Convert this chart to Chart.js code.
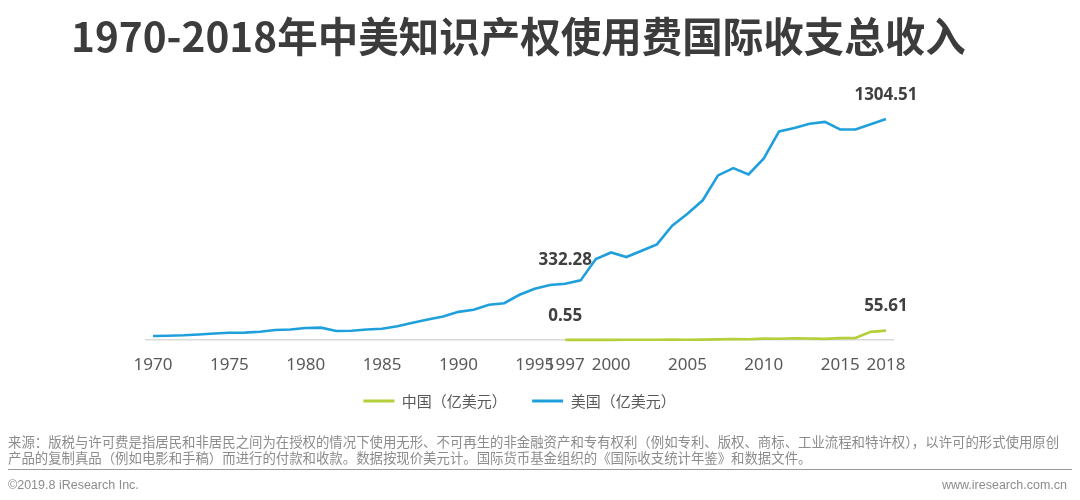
<!DOCTYPE html>
<html>
<head>
<meta charset="utf-8">
<script src="https://cdn.jsdelivr.net/npm/chart.js@4/dist/chart.umd.min.js"></script>
<style>
  html, body { margin:0; padding:0; background:#fff; }
  #wrap { position:relative; width:1080px; height:500px; overflow:hidden; background:#fff; }
  #c { position:absolute; left:0; top:0; }
  #title { position:absolute; left:71px; top:14px; font-family:"Noto Sans CJK SC", sans-serif; font-weight:700; font-size:40.5px; line-height:41px; color:#3c3c3c; white-space:nowrap; }
  #note { position:absolute; left:8px; top:433px; width:1070px; font-family:"Noto Sans CJK SC", sans-serif; font-size:13.4px; line-height:16px; color:#8c8c8c; white-space:nowrap; }
  #rule { position:absolute; left:8px; top:469px; width:1064px; height:1px; background:#9a9a9a; }
  #copy { position:absolute; left:8px; top:477px; font-family:"Liberation Sans", Arial, sans-serif; font-size:12.5px; line-height:16px; color:#8c8c8c; }
  #site { position:absolute; right:13px; top:477px; font-family:"Liberation Sans", Arial, sans-serif; font-size:12.5px; line-height:16px; color:#8c8c8c; }
</style>
</head>
<body>
<div id="wrap">
  <canvas id="c" width="1080" height="500"></canvas>
  <div id="title">1970-2018年中美知识产权使用费国际收支总收入</div>
  <div id="note">来源：版税与许可费是指居民和非居民之间为在授权的情况下使用无形、不可再生的非金融资产和专有权利（例如专利、版权、商标、工业流程和特许权），以许可的形式使用原创<br>产品的复制真品（例如电影和手稿）而进行的付款和收款。数据按现价美元计。国际货币基金组织的《国际收支统计年鉴》和数据文件。</div>
  <div id="rule"></div>
  <div id="copy">©2019.8 iResearch Inc.</div>
  <div id="site">www.iresearch.com.cn</div>
</div>
<script>
// ---- data ----
const years = [
  '1970','1971','1972','1973','1974','1975','1976','1977','1978','1979',
  '1980','1981','1982','1983','1984','1985','1986','1987','1988','1989',
  '1990','1991','1992','1993','1994','1995','1996','1997','1998','1999',
  '2000','2001','2002','2003','2004','2005','2006','2007','2008','2009',
  '2010','2011','2012','2013','2014','2015','2016','2017','2018'
];
const tickYears = ['1970','1975','1980','1985','1990','1995','1997','2000','2005','2010','2015','2018'];
const usValues = [
  23.3, 25.5, 27.7, 32.3, 38.2, 43.0, 43.5, 48.6, 58.9, 61.8,
  70.9, 72.8, 53.0, 55.0, 61.8, 66.8, 81.1, 101.7, 121.5, 138.2,
  166.3, 178.2, 208.4, 217.0, 267.1, 302.9, 324.7, 332.28, 352.0, 478,
  517, 490, 527, 565, 675, 745, 825, 972, 1015, 978,
  1072, 1232, 1252, 1277, 1288, 1243, 1243, 1274, 1304.51
];
const cnValues = [
  null, null, null, null, null, null, null, null, null, null,
  null, null, null, null, null, null, null, null, null, null,
  null, null, null, null, null, null, null, 0.55, 0.63, 0.75,
  0.80, 1.10, 1.33, 1.07, 2.36, 1.57, 2.05, 3.43, 5.71, 4.29,
  8.30, 7.43, 10.44, 8.87, 6.76, 10.85, 11.61, 47.97, 55.61
];
const seriesNames = ['中国（亿美元）', '美国（亿美元）'];
const annotations = [
  { series: 1, year: '1997', text: '332.28' },
  { series: 1, year: '2018', text: '1304.51' },
  { series: 0, year: '1997', text: '0.55' },
  { series: 0, year: '2018', text: '55.61' }
];

const CN_COLOR = '#b3cf3a';
const US_COLOR = '#1fa0dc';

const labelPlugin = {
  id: 'pointLabels',
  afterDatasetsDraw(chart) {
    const ctx = chart.ctx;
    ctx.save();
    ctx.font = 'bold 17px "Noto Sans", sans-serif';
    ctx.fillStyle = '#404040';
    ctx.textAlign = 'center';
    ctx.textBaseline = 'middle';
    annotations.forEach(a => {
      const meta = chart.getDatasetMeta(a.series);
      const idx = years.indexOf(a.year);
      const pt = meta.data[idx];
      if (pt) ctx.fillText(a.text, pt.x, pt.y - 24);
    });
    ctx.restore();
  }
};

new Chart(document.getElementById('c'), {
  type: 'line',
  data: {
    labels: years,
    datasets: [
      { label: seriesNames[0], data: cnValues, borderColor: CN_COLOR, backgroundColor: CN_COLOR, borderWidth: 2.6, pointRadius: 0, tension: 0, clip: false },
      { label: seriesNames[1], data: usValues, borderColor: US_COLOR, backgroundColor: US_COLOR, borderWidth: 2.6, pointRadius: 0, tension: 0, clip: false }
    ]
  },
  options: {
    responsive: false,
    animation: false,
    devicePixelRatio: 1,
    layout: { padding: { left: 145.4, right: 186.4, top: 86, bottom: 81.5 } },
    plugins: {
      tooltip: { enabled: false },
      title: { display: false },
      legend: {
        position: 'bottom',
        labels: {
          boxWidth: 31,
          boxHeight: 3,
          padding: 14,
          color: '#595959',
          font: { family: '"Noto Sans CJK SC", sans-serif', size: 15 },
          generateLabels(chart) {
            return chart.data.datasets.map((ds, i) => ({
              text: i === 0 ? ds.label + '\u3000\u2005' : ds.label,
              fillStyle: ds.borderColor,
              strokeStyle: ds.borderColor,
              lineWidth: 0,
              hidden: false,
              datasetIndex: i,
              fontColor: '#595959'
            }));
          }
        }
      }
    },
    scales: {
      x: {
        type: 'category',
        offset: true,
        grid: { display: false, drawTicks: false },
        border: { display: true, color: '#d9d9d9', width: 1.5 },
        ticks: {
          autoSkip: false,
          maxRotation: 0,
          padding: 15,
          color: '#595959',
          font: { family: '"Noto Sans", sans-serif', size: 17 },
          callback(value, index) {
            const y = years[index];
            return tickYears.includes(y) ? y : '';
          }
        },
        afterFit(scale) { scale.height = 39.5; }
      },
      y: {
        display: false,
        min: 0,
        max: 1500
      }
    }
  },
  plugins: [labelPlugin]
});
</script>
</body>
</html>
